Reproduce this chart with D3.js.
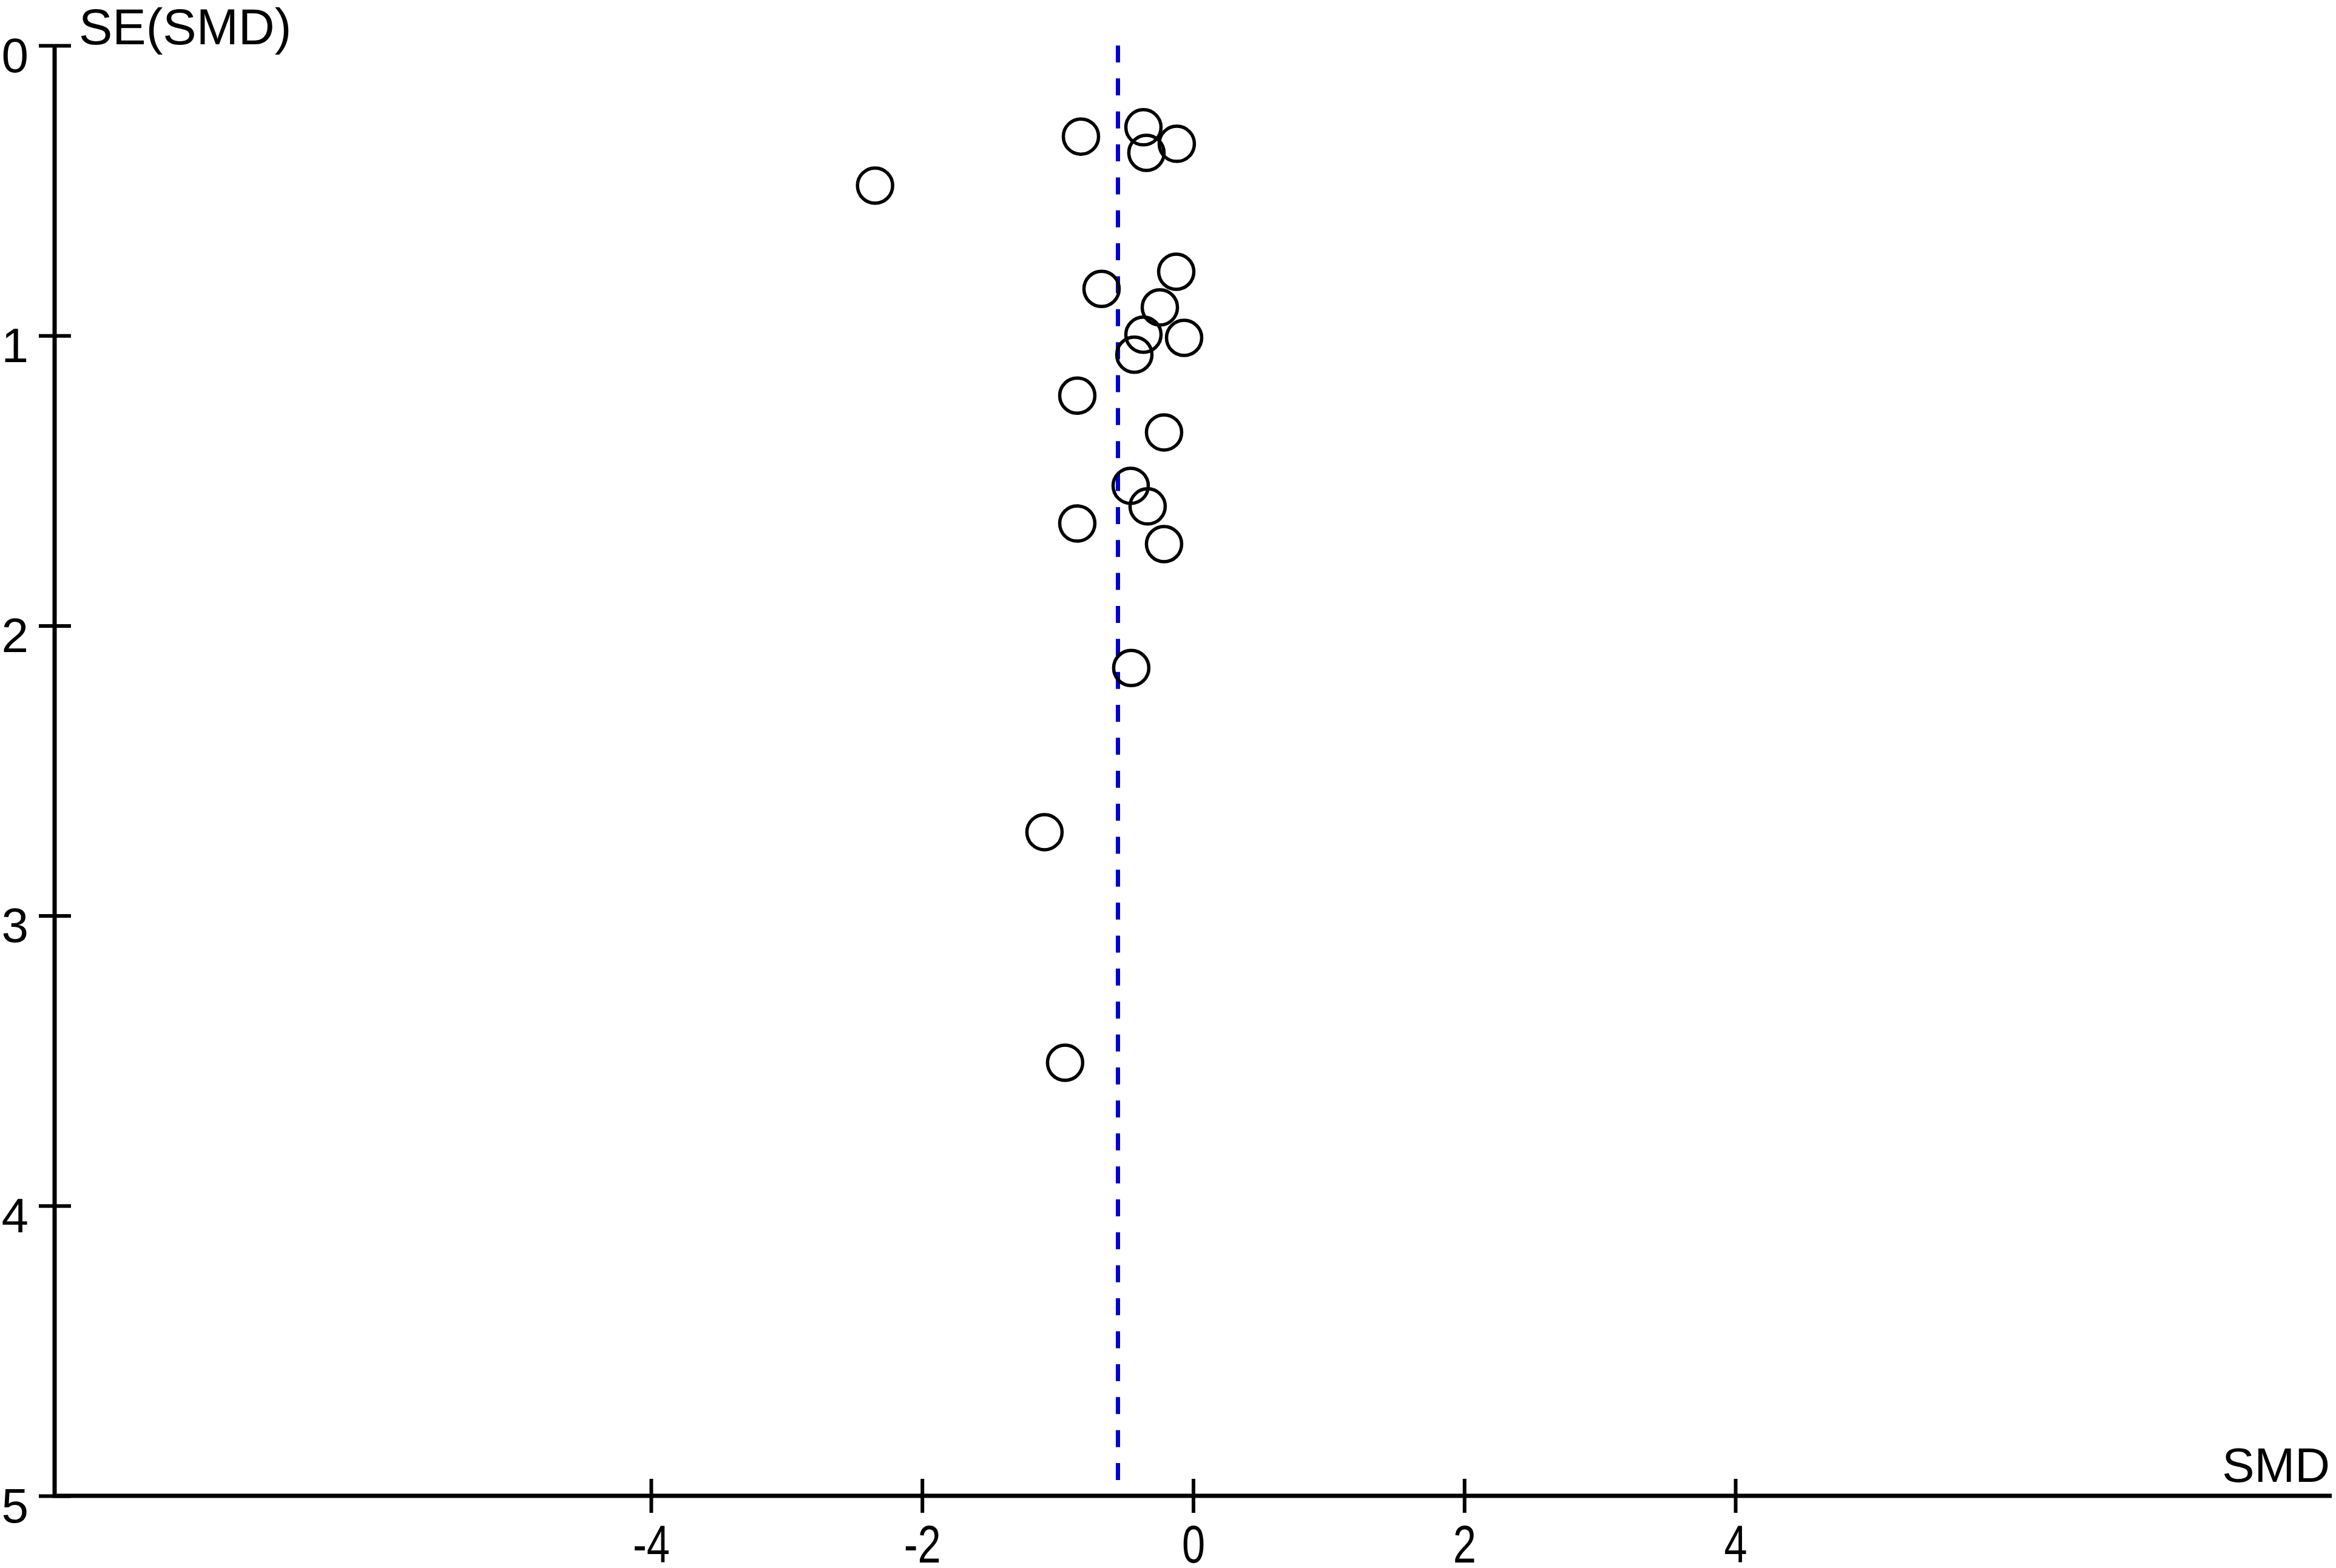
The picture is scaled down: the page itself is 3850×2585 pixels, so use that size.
<!DOCTYPE html>
<html>
<head>
<meta charset="utf-8">
<script src="https://cdn.jsdelivr.net/npm/d3@7"></script>
<style>
  html, body { margin: 0; padding: 0; background: #ffffff; }
  svg { display: block; }
  text { font-family: "Liberation Sans", Arial, sans-serif; fill: #000; }
</style>
</head>
<body>
<script>
// ---- Data ----
const studySMD = [-0.367, -0.828, -0.121, -0.345, -2.347, -0.125, -0.676, -0.246, -0.367, -0.067,
                  -0.434, -0.855, -0.215, -0.461, -0.336, -0.855, -0.215, -0.457, -1.097, -0.945];
const studySE  = [0.282, 0.314, 0.339, 0.370, 0.483, 0.780, 0.839, 0.903, 0.997, 1.008,
                  1.066, 1.207, 1.334, 1.518, 1.589, 1.648, 1.719, 2.146, 2.712, 3.507];
const pooledSMD = -0.555;
const xTicks = [-4, -2, 0, 2, 4];
const yTicks = [0, 1, 2, 3, 4, 5];
const xTitle = "SMD";
const yTitle = "SE(SMD)";

const W = 3850, H = 2585;
const svg = d3.select("body").append("svg").attr("width", W).attr("height", H);

const x = d3.scaleLinear().domain([-8.4, 8.4]).range([90, 3843]);
const y = d3.scaleLinear().domain([0, 5]).range([75, 2466]);

// Y axis
const yAxis = d3.axisLeft(y).tickValues(yTicks).tickFormat(d3.format("d")).tickSize(0).tickPadding(0);
const gy = svg.append("g").attr("transform", `translate(${x(-8.4)},0)`).call(yAxis);
gy.select(".domain").remove();
gy.selectAll(".tick line").remove();
gy.selectAll(".tick").append("line")
  .attr("x1", -26).attr("x2", 27).attr("y1", 0).attr("y2", 0)
  .attr("stroke", "#000").attr("stroke-width", 6);
gy.selectAll(".tick text")
  .attr("x", -43).attr("dy", null).attr("y", 43)
  .attr("text-anchor", "end")
  .style("font-size", "80px").style("font-family", "Liberation Sans, Arial, sans-serif");
gy.append("line").attr("x1", 0).attr("x2", 0).attr("y1", y(0)).attr("y2", y(5) + 3)
  .attr("stroke", "#000").attr("stroke-width", 7);

// X axis
const xAxis = d3.axisBottom(x).tickValues(xTicks).tickFormat(d3.format("d")).tickSize(0).tickPadding(0);
const gx = svg.append("g").attr("transform", `translate(0,${y(5)})`).call(xAxis);
gx.select(".domain").remove();
gx.selectAll(".tick line").remove();
gx.selectAll(".tick").append("line")
  .attr("x1", 0).attr("x2", 0).attr("y1", -28).attr("y2", 28)
  .attr("stroke", "#000").attr("stroke-width", 6);
gx.selectAll(".tick text")
  .attr("y", 110).attr("dy", null)
  .attr("text-anchor", "middle")
  .attr("transform", "scale(0.78,1)")
  .text(d => d < 0 ? "-" + Math.abs(d) : String(d))
  .style("font-size", "88px").style("font-family", "Liberation Sans, Arial, sans-serif");
gx.append("line").attr("x1", x(-8.4) - 3).attr("x2", x(8.4)).attr("y1", 0).attr("y2", 0)
  .attr("stroke", "#000").attr("stroke-width", 7);

// Axis titles
svg.append("text").attr("x", 130).attr("y", 73)
  .style("font-size", "83px").text(yTitle);
svg.append("text").attr("x", 3840).attr("y", 2443).attr("text-anchor", "end")
  .style("font-size", "80px").text(xTitle);

// Pooled estimate dashed line
svg.append("line")
  .attr("x1", x(pooledSMD)).attr("x2", x(pooledSMD))
  .attr("y1", y(0)).attr("y2", y(5))
  .attr("stroke", "#0000d0").attr("stroke-width", 7)
  .attr("stroke-dasharray", "28,26.35");

// Study circles
const pts = studySMD.map((v, i) => ({ smd: v, se: studySE[i] }));
svg.append("g").selectAll("circle").data(pts).join("circle")
  .attr("cx", d => x(d.smd)).attr("cy", d => y(d.se))
  .attr("r", 29)
  .attr("fill", "none").attr("stroke", "#000").attr("stroke-width", 5.5);
</script>
</body>
</html>
